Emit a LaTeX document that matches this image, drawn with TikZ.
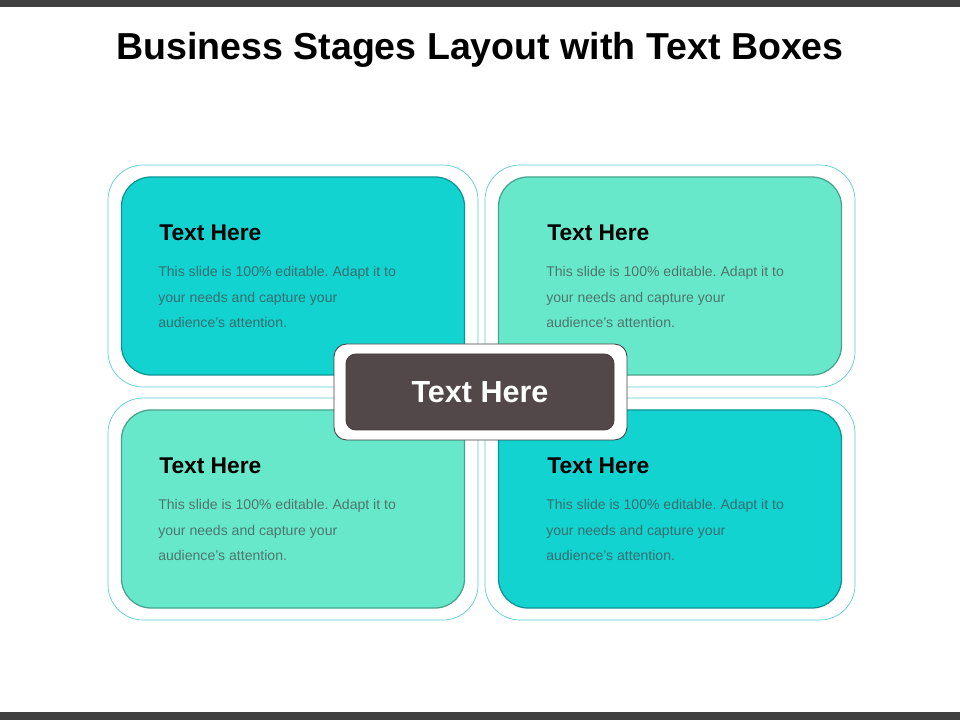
\documentclass[tikz,border=0pt]{standalone}
\usepackage{fontspec}
\setmainfont{Liberation Sans}
\usepackage{tikz}
\usetikzlibrary{positioning}
\frenchspacing
\definecolor{barGray}{HTML}{404040}
\definecolor{stageTeal}{HTML}{13D3D1}
\definecolor{stageMint}{HTML}{68E8CB}
\definecolor{frameLine}{HTML}{5CCDD4}
\definecolor{hubDark}{HTML}{524849}
\tikzset{
	bar/.style={fill=barGray},
	titl/.style={
		font={\fontsize{26.7}{30}\selectfont\bfseries},
	},
	frame/.style={
		draw=frameLine,
		line width=0.5pt,
		fill=white,
		rounded corners=25pt,
		minimum width=370*0.025cm,
		minimum height=222*0.025cm,
	},
	stage/.style={
		draw=#1!70!black,
		line width=0.9pt,
		fill=#1,
		rounded corners=21pt,
		minimum width=343*0.025cm,
		minimum height=198*0.025cm,
	},
	head/.style={
		anchor=west,
		inner sep=0pt,
		font={\fontsize{16.2}{19}\selectfont\bfseries},
	},
	body/.style={
		anchor=west,
		inner sep=0pt,
		align=left,
		text=black!75,
		text opacity=0.68,
		font={\fontsize{10}{17.8}\selectfont},
	},
	hubframe/.style={
		draw=barGray,
		line width=0.6pt,
		fill=white,
		rounded corners=9pt,
		minimum width=293*0.025cm,
		minimum height=96*0.025cm,
	},
	hub/.style={
		draw=hubDark!80!black,
		line width=0.6pt,
		fill=hubDark,
		rounded corners=7pt,
		text=white,
		minimum width=268*0.025cm,
		minimum height=76*0.025cm,
		font={\fontsize{21.7}{24}\selectfont\bfseries},
	},
}

\begin{document}
\begin{tikzpicture}[x=0.025cm,y=-0.025cm]
\useasboundingbox (0,0) rectangle (960,720);
\fill[bar] (0,0) rectangle (960,7);
\fill[bar] (0,712) rectangle (960,720);
\node[titl] (title) at (480,50) {Business Stages Layout with Text Boxes};

% four stages
\foreach \n/\x/\y/\c/\tx in {a/293/276/stageTeal/159, b/670/276/stageMint/547,
                             c/293/509/stageMint/159, d/670/509/stageTeal/547}{
	\node[frame] (frame\n) at (\x,\y) {};
	\node[stage=\c] (box\n) at (\x,\y) {};
	\node[head] (head\n) at (\tx,\y-43) {Text Here};
	\node[body] (body\n) at (\tx-1,\y+21) {This slide is 100\% editable. Adapt it to\\your needs and capture your\\audience’s attention.};
}

\node[hubframe] (hubf) at (480.5,392) {};
\node[hub] (hub) at (480,392) {Text Here};
\end{tikzpicture}
\end{document}
